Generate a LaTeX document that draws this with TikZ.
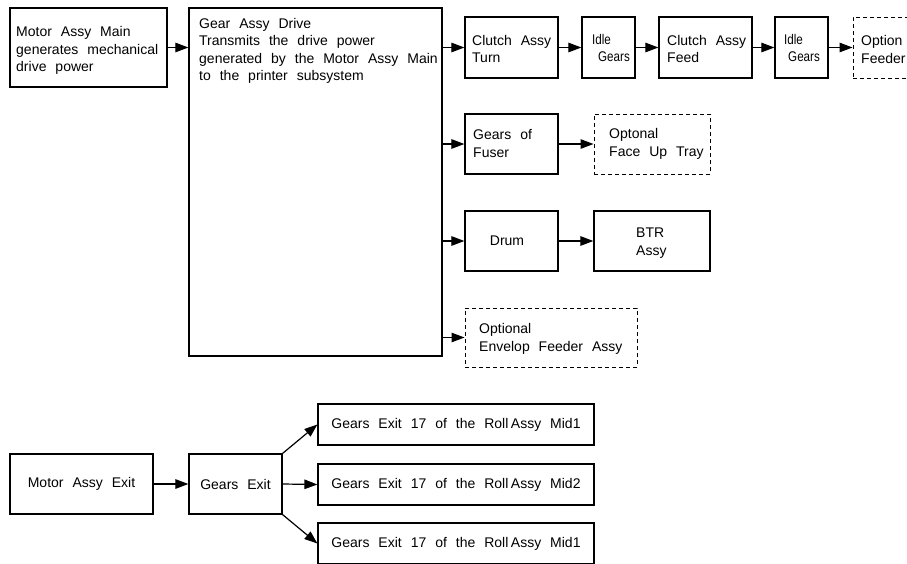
\documentclass[tikz,border=0pt]{standalone}
\usepackage{fontspec}
\setmainfont{Liberation Sans}[WordSpace=2.3]
\usetikzlibrary{arrows.meta}
\tikzset{
  blk/.style={draw, line width=1.25pt, inner sep=0pt},
  opt/.style={draw, line width=1pt, dash pattern=on 4pt off 3pt, inner sep=0pt},
  txt/.style={inner sep=0pt, align=left, font=\fontsize{14}{17.5}\selectfont},
  flow/.style={line width=1.2pt, -{Triangle[length=13pt,width=9.5pt]}},
}
% narrow lettering used in the small idler boxes
\newcommand\narrowtext[1]{\scalebox{0.83}[1]{#1}}
\begin{document}
\begin{tikzpicture}[x=1pt, y=-1pt]
\useasboundingbox (0,0) rectangle (907,563);
\clip (0,0) rectangle (907,563);
\fill[white] (0,0) rectangle (907,563);

% main drive train
\node[blk, minimum width=157pt, minimum height=79pt] (mam) at (88.5,47.5) {};
\node[txt, anchor=west] (mamT) at (16,50.5) {Motor Assy Main\\generates mechanical\\drive power};
\node[blk, minimum width=253pt, minimum height=348pt] (gad) at (315.5,182) {};
\node[txt, anchor=west] (gadT) at (199,51) {Gear Assy Drive\\Transmits the drive power\\generated by the Motor Assy Main\\to the printer subsystem};

% feed branch
\node[blk, minimum width=93pt, minimum height=61pt] (ct) at (511.5,47.5) {};
\node[txt, anchor=west] (ctT) at (472,49) {Clutch Assy\\Turn};
\node[blk, minimum width=53pt, minimum height=61pt] (ig1) at (608.5,47.5) {};
\node[txt, anchor=west] (ig1T) at (592,48) {\narrowtext{Idle}\\\hspace*{6pt}\narrowtext{Gears}};
\node[blk, minimum width=93pt, minimum height=61pt] (cf) at (705.5,47.5) {};
\node[txt, anchor=west] (cfT) at (667,49) {Clutch Assy\\Feed};
\node[blk, minimum width=53pt, minimum height=61pt] (ig2) at (801.5,47.5) {};
\node[txt, anchor=west] (ig2T) at (784,48) {\narrowtext{Idle}\\\hspace*{4pt}\narrowtext{Gears}};
\node[opt, minimum width=92pt, minimum height=61pt] (of) at (899,47.5) {};
\node[txt, anchor=west] (ofT) at (861,49.5) {Option\\Feeder};

% fuser branch
\node[blk, minimum width=93pt, minimum height=60pt] (gf) at (511.5,144) {};
\node[txt, anchor=west] (gfT) at (473,143.5) {Gears of\\Fuser};
\node[opt, minimum width=116pt, minimum height=60pt] (fut) at (652,144) {};
\node[txt, anchor=west] (futT) at (609,144) {Optonal\\Face Up Tray};

% drum branch
\node[blk, minimum width=93pt, minimum height=60pt] (drum) at (511.5,241) {};
\node[txt] (drumT) at (507,241) {Drum};
\node[blk, minimum width=116pt, minimum height=60pt] (btr) at (652,241) {};
\node[txt, anchor=west] (btrT) at (636,243) {BTR\\Assy};

% envelope feeder branch
\node[opt, minimum width=172pt, minimum height=59pt] (env) at (551,337.5) {};
\node[txt, anchor=west] (envT) at (479,339) {Optional\\Envelop Feeder Assy};

\draw[flow] (mam.east) -- (mam.east -| gad.west);
\draw[flow] (gad.east |- ct.west) -- (ct.west);
\draw[flow] (ct.east) -- (ig1.west);
\draw[flow] (ig1.east) -- (cf.west);
\draw[flow] (cf.east) -- (ig2.west);
\draw[flow] (ig2.east) -- (of.west);
\draw[flow] (gad.east |- gf.west) -- (gf.west);
\draw[flow] (gf.east) -- (fut.west);
\draw[flow] (gad.east |- drum.west) -- (drum.west);
\draw[flow] (drum.east) -- (btr.west);
\draw[flow] (gad.east |- env.west) -- (env.west);

% exit drive train
\node[blk, minimum width=143pt, minimum height=60pt, font=\fontsize{14}{17.5}\selectfont] (mae) at (81.5,484) {Motor Assy Exit};
\node[blk, minimum width=93pt, minimum height=60pt, font=\fontsize{14}{17.5}\selectfont] (ge) at (235.5,484) {Gears Exit};
\node[blk, minimum width=276pt, minimum height=41pt, font=\fontsize{14}{17.5}\selectfont] (r1) at (456,424.5) {Gears Exit 17 of the Roll\hspace{2.5pt}Assy Mid1};
\node[blk, minimum width=276pt, minimum height=41pt, font=\fontsize{14}{17.5}\selectfont] (r2) at (456,484.5) {Gears Exit 17 of the Roll\hspace{2.5pt}Assy Mid2};
\node[blk, minimum width=276pt, minimum height=41pt, font=\fontsize{14}{17.5}\selectfont] (r3) at (456,543.5) {Gears Exit 17 of the Roll\hspace{2.5pt}Assy Mid1};

\draw[flow] (mae.east) -- (ge.west);
\draw[flow] (ge.north east) -- (r1.west);
\draw[flow] (ge.east) -- (r2.west);
\draw[flow] (ge.south east) -- (r3.west);
\end{tikzpicture}
\end{document}
